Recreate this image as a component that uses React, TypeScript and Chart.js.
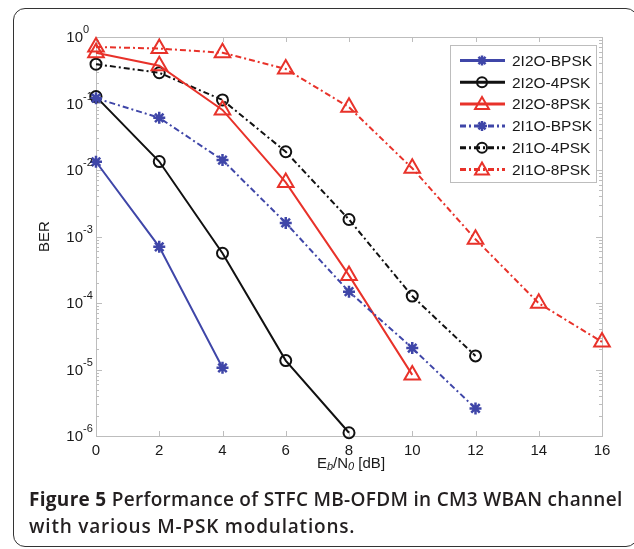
import React, { useEffect, useRef } from "react";
import { Chart, registerables } from "chart.js";

Chart.register(...registerables);

const snr = [0, 2, 4, 6, 8, 10, 12, 14, 16];
const seriesNames = ["2I2O-BPSK", "2I2O-4PSK", "2I2O-8PSK", "2I1O-BPSK", "2I1O-4PSK", "2I1O-8PSK"];
const ber2I2O_BPSK = [0.0133, 7.0e-4, 1.06e-5];
const ber2I2O_4PSK = [0.127, 0.0134, 5.6e-4, 1.36e-5, 1.12e-6];
const ber2I2O_8PSK = [0.58, 0.37, 0.08, 0.0065, 2.6e-4, 8.3e-6];
const ber2I1O_BPSK = [0.12, 0.061, 0.0141, 1.6e-3, 1.48e-4, 2.1e-5, 2.6e-6];
const ber2I1O_4PSK = [0.39, 0.29, 0.113, 0.0188, 1.8e-3, 1.27e-4, 1.6e-5];
const ber2I1O_8PSK = [0.71, 0.67, 0.58, 0.33, 0.088, 0.0106, 9.1e-4, 9.9e-5, 2.6e-5];
const xTicks = [0, 2, 4, 6, 8, 10, 12, 14, 16];
const yExponents = [0, -1, -2, -3, -4, -5, -6];

const BLUE = "#3f46a8";
const BLACK = "#111111";
const RED = "#e8322a";
const DASHDOT = [6, 3, 2, 3];
const FONT = '"Liberation Sans", Arial, sans-serif';

function toPts(vals: number[]) {
  return vals.map((v, i) => ({ x: snr[i], y: v }));
}

function drawMarker(ctx: CanvasRenderingContext2D, style: string, x: number, y: number, r: number, color: string, lw: number) {
  ctx.save();
  ctx.strokeStyle = color;
  ctx.lineWidth = lw;
  ctx.setLineDash([]);
  ctx.beginPath();
  if (style === "circle") {
    ctx.arc(x, y, r, 0, Math.PI * 2);
  } else if (style === "triangle") {
    for (let k = 0; k < 3; k++) {
      const a = (k * 2 * Math.PI) / 3;
      const px = x + Math.sin(a) * r;
      const py = y - Math.cos(a) * r;
      if (k === 0) ctx.moveTo(px, py);
      else ctx.lineTo(px, py);
    }
    ctx.closePath();
  } else {
    for (let k = 0; k < 4; k++) {
      const a = (k * Math.PI) / 4;
      ctx.moveTo(x + Math.cos(a) * r, y + Math.sin(a) * r);
      ctx.lineTo(x - Math.cos(a) * r, y - Math.sin(a) * r);
    }
  }
  ctx.stroke();
  ctx.restore();
}

const decorPlugin = {
  id: "decor",
  beforeDatasetsDraw(chart: any) {
    const ctx: CanvasRenderingContext2D = chart.ctx;
    const { left, right, top, bottom } = chart.chartArea;
    const xs = chart.scales.x;
    const ys = chart.scales.y;
    ctx.save();
    ctx.strokeStyle = "#bdbdbd";
    ctx.lineWidth = 1;
    ctx.strokeRect(left + 0.5, top + 0.5, right - left, bottom - top);
    ctx.beginPath();
    xTicks.forEach((t) => {
      const px = Math.round(xs.getPixelForValue(t)) + 0.5;
      ctx.moveTo(px, bottom);
      ctx.lineTo(px, bottom - 5);
      ctx.moveTo(px, top);
      ctx.lineTo(px, top + 5);
    });
    yExponents.forEach((e) => {
      const py = Math.round(ys.getPixelForValue(Math.pow(10, e))) + 0.5;
      ctx.moveTo(left, py);
      ctx.lineTo(left + 6, py);
      ctx.moveTo(right, py);
      ctx.lineTo(right - 6, py);
      if (e > -6) {
        for (let m = 2; m <= 9; m++) {
          const pm = Math.round(ys.getPixelForValue(m * Math.pow(10, e - 1))) + 0.5;
          ctx.moveTo(left, pm);
          ctx.lineTo(left + 3, pm);
          ctx.moveTo(right, pm);
          ctx.lineTo(right - 3, pm);
        }
      }
    });
    ctx.stroke();
    ctx.restore();
  },
  afterDatasetsDraw(chart: any) {
    const ctx: CanvasRenderingContext2D = chart.ctx;
    const { left, right, top, bottom } = chart.chartArea;
    const xs = chart.scales.x;
    const ys = chart.scales.y;
    ctx.save();
    ctx.fillStyle = "#1a1a1a";
    // x tick labels
    ctx.font = `15px ${FONT}`;
    ctx.textAlign = "center";
    ctx.textBaseline = "middle";
    xTicks.forEach((t) => {
      ctx.fillText(String(t), xs.getPixelForValue(t), bottom + 15);
    });
    // y tick labels
    yExponents.forEach((e) => {
      const py = ys.getPixelForValue(Math.pow(10, e));
      ctx.font = `15px ${FONT}`;
      ctx.textAlign = "right";
      ctx.textBaseline = "middle";
      ctx.fillText("10", left - 13, py + 1);
      ctx.font = `11px ${FONT}`;
      ctx.textAlign = "left";
      ctx.fillText(String(e), left - 13, py - 7);
    });
    // x title
    const cx = (left + right) / 2 + 2;
    const ty = bottom + 28;
    const parts: [string, string, number][] = [
      ["E", `15px ${FONT}`, 0],
      ["b", `italic 11px ${FONT}`, 3],
      ["/N", `15px ${FONT}`, 0],
      ["0", `italic 11px ${FONT}`, 3],
      [" [dB]", `15px ${FONT}`, 0],
    ];
    let total = 0;
    parts.forEach(([s, f]) => {
      ctx.font = f;
      total += ctx.measureText(s).width;
    });
    let xx = cx - total / 2;
    ctx.textAlign = "left";
    ctx.textBaseline = "middle";
    parts.forEach(([s, f, dy]) => {
      ctx.font = f;
      ctx.fillText(s, xx, ty + dy);
      xx += ctx.measureText(s).width;
    });
    // y title
    ctx.save();
    ctx.translate(left - 51, (top + bottom) / 2);
    ctx.rotate(-Math.PI / 2);
    ctx.font = `15px ${FONT}`;
    ctx.textAlign = "center";
    ctx.textBaseline = "middle";
    ctx.fillText("BER", 0, 0);
    ctx.restore();
    // legend
    const lw = 146;
    const lh = 137;
    const lx = right - 6 - lw;
    const ly = top + 8;
    ctx.fillStyle = "#ffffff";
    ctx.fillRect(lx, ly, lw, lh);
    ctx.strokeStyle = "#bdbdbd";
    ctx.lineWidth = 1;
    ctx.strokeRect(lx + 0.5, ly + 0.5, lw, lh);
    chart.data.datasets.forEach((ds: any, i: number) => {
      const ry = ly + 15.5 + i * 21.8;
      ctx.save();
      ctx.strokeStyle = ds.borderColor;
      ctx.lineWidth = 3;
      ctx.setLineDash(ds.borderDash || []);
      ctx.beginPath();
      ctx.moveTo(lx + 10, ry);
      ctx.lineTo(lx + 55, ry);
      ctx.stroke();
      ctx.restore();
      const style = ds.pointStyle;
      const r = style === "triangle" ? 8 : style === "circle" ? 5 : 5;
      drawMarker(ctx, style, lx + 32, ry + (style === "triangle" ? 1 : 0), r, ds.borderColor, style === "star" ? 2.5 : 2);
      ctx.fillStyle = "#1a1a1a";
      ctx.font = `15.5px ${FONT}`;
      ctx.textAlign = "left";
      ctx.textBaseline = "middle";
      ctx.fillText(ds.label, lx + 62, ry + 1);
    });
    ctx.restore();
  },
};

export default function App() {
  const ref = useRef<HTMLCanvasElement>(null);
  useEffect(() => {
    const mk = (i: number, vals: number[], color: string, style: string, dashed: boolean, order: number) => ({
      label: seriesNames[i],
      data: toPts(vals),
      borderColor: color,
      backgroundColor: "transparent",
      borderWidth: 2,
      borderDash: dashed ? DASHDOT : [],
      pointStyle: style,
      pointRadius: style === "triangle" ? 9 : style === "circle" ? 5.5 : 6,
      pointBorderWidth: style === "star" ? 2.5 : 2,
      pointBackgroundColor: "transparent",
      pointBorderColor: color,
      tension: 0,
      clip: false,
      order,
    });
    const chart = new Chart(ref.current as HTMLCanvasElement, {
      type: "line",
      data: {
        datasets: [
          mk(0, ber2I2O_BPSK, BLUE, "star", false, 1),
          mk(1, ber2I2O_4PSK, BLACK, "circle", false, 1),
          mk(2, ber2I2O_8PSK, RED, "triangle", false, 1),
          mk(3, ber2I1O_BPSK, BLUE, "star", true, 0),
          mk(4, ber2I1O_4PSK, BLACK, "circle", true, 1),
          mk(5, ber2I1O_8PSK, RED, "triangle", true, 2),
        ] as any,
      },
      options: {
        animation: false,
        responsive: false,
        devicePixelRatio: 1,
        layout: { padding: { left: 96, right: 32, top: 37, bottom: 113 } },
        plugins: { legend: { display: false }, tooltip: { enabled: false } },
        scales: {
          x: { type: "linear", min: 0, max: 16, display: false },
          y: { type: "logarithmic", min: 1e-6, max: 1, display: false },
        },
      },
      plugins: [decorPlugin],
    });
    return () => chart.destroy();
  }, []);
  return (
    <div style={{ position: "absolute", left: 0, top: 0, width: 634, height: 549, overflow: "hidden", background: "#fff" }}>
      <div
        style={{
          position: "absolute",
          left: 13,
          top: 8,
          width: 625,
          height: 539,
          border: "1.5px solid #333",
          borderRadius: 12,
          boxSizing: "border-box",
        }}
      />
      <canvas ref={ref} width={634} height={549} style={{ position: "absolute", left: 0, top: 0, width: 634, height: 549 }} />
      <div
        style={{
          position: "absolute",
          left: 29,
          top: 486,
          width: 605,
          fontFamily: '"Open Sans", sans-serif',
          fontWeight: 600,
          fontSize: 19,
          lineHeight: "27px",
          color: "#231f20",
          whiteSpace: "nowrap",
        }}
      >
        <div style={{ letterSpacing: 0.3 }}>
          <span style={{ fontWeight: 700 }}>Figure 5</span> Performance of STFC MB-OFDM in CM3 WBAN channel
        </div>
        <div style={{ letterSpacing: 0.8 }}>with various M-PSK modulations.</div>
      </div>
    </div>
  );
}
